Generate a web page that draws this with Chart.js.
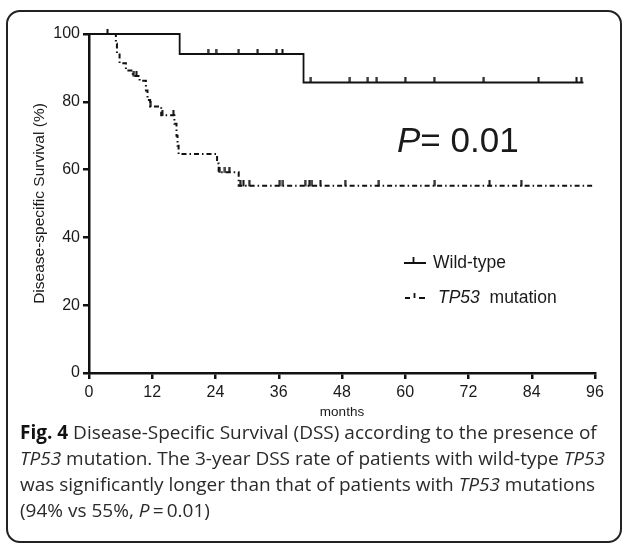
<!DOCTYPE html>
<html>
<head>
<meta charset="utf-8">
<script src="https://cdn.jsdelivr.net/npm/chart.js@4.4.0/dist/chart.umd.min.js"></script>
<style>
  html, body { margin: 0; padding: 0; background: #fff; }
  body { width: 624px; height: 544px; position: relative; overflow: hidden; }
  #frame { position: absolute; left: 6px; top: 10px; width: 612px; height: 529px;
           border: 2px solid #222; border-radius: 14px; }
  #chart { position: absolute; left: 0; top: 0; }
  .lbl { position: absolute; font-family: "Liberation Sans", Arial, sans-serif; color: #1a1a1a; white-space: nowrap; }
  #pval { left: 397px; top: 122px; font-size: 35px; line-height: 35px; }
  .leg { font-size: 17.5px; line-height: 20px; }
  .leg svg { position: absolute; }
  #caption { position: absolute; left: 20px; top: 419px; width: 600px;
             font-family: "Open Sans", sans-serif; font-size: 19px; line-height: 26px;
             color: #2a2a2a; white-space: nowrap; }
  #caption b { color: #111; }
</style>
</head>
<body>
<div id="frame"></div>
<canvas id="chart" width="624" height="430"></canvas>

<div class="lbl" id="pval"><i>P</i>= 0.01</div>
<div class="lbl leg" style="left:404px; top:252px;">
  <svg width="22" height="12" style="left:0; top:1px;"><path d="M0 10 H22 M9.5 10 V4" stroke="#111" stroke-width="1.8" fill="none"/></svg>
  <span style="position:absolute; left:29px; top:0;">Wild-type</span>
</div>
<div class="lbl leg" style="left:404px; top:287px;">
  <svg width="22" height="12" style="left:0; top:1px;"><path d="M1 10 H6 M10.5 10 V5 M15 10 H21" stroke="#111" stroke-width="1.8" fill="none"/></svg>
  <span style="position:absolute; left:34px; top:0;"><i>TP53</i>&nbsp; mutation</span>
</div>

<div id="caption">
  <b>Fig. 4</b> Disease-Specific Survival (DSS) according to the presence of<br>
  <i>TP53</i> mutation. The 3-year DSS rate of patients with wild-type <i>TP53</i><br>
  was significantly longer than that of patients with <i>TP53</i> mutations<br>
  (94% vs 55%, <i>P</i>&thinsp;=&thinsp;0.01)
</div>

<script>
// 축 눈금
const xTicks = [0, 12, 24, 36, 48, 60, 72, 84, 96];
const yTicks = [0, 20, 40, 60, 80, 100];

// Wild-type (KM 계단: 사건 시점 / 사건 이후 생존율)
const wildTime = [0, 17.2, 40.7, 93.8];
const wildSurv = [100, 94.1, 85.7, 85.7];
const wildCensor = [22.6, 24.1, 28.4, 32.0, 35.6, 36.7, 42.1, 49.5, 52.9, 54.6, 60.0, 65.5, 74.9, 85.3, 92.5, 93.4];

// TP53 mutation
const mutTime = [0, 5.1, 5.3, 5.8, 7.0, 8.3, 9.6, 10.8, 11.1, 11.6, 13.7, 16.2, 16.6, 16.8, 17.0, 24.3, 24.6, 28.4, 96.0];
const mutSurv = [100, 97.1, 94.3, 91.4, 89.2, 87.6, 86.2, 83.3, 80.5, 78.6, 76.0, 73.5, 70.0, 67.0, 64.6, 61.8, 59.2, 55.2, 55.2];
const mutCensor = [3.5, 8.5, 9.0, 11.7, 13.9, 16.0, 24.8, 25.8, 26.6, 28.7, 29.3, 30.4, 36.2, 36.8, 41.0, 41.8, 42.3, 43.9, 48.6, 55.0, 65.6, 76.0, 82.0];

// 계단 함수에서 중도절단 시점의 생존율 찾기
function survAt(times, surv, t) {
    let v = surv[0];
    for (let i = 0; i < times.length; i++) {
        if (times[i] <= t) v = surv[i];
    }
    return v;
}

// 중도절단 표시 (위로 짧은 세로선)
function makeTick() {
    const c = document.createElement('canvas');
    c.width = 3; c.height = 11;
    const g = c.getContext('2d');
    g.fillStyle = '#111';
    g.fillRect(0.5, 0, 2, 6);
    return c;
}
const tickImg = makeTick();

const FONT = "'Liberation Sans', Arial, sans-serif";
const ink = '#111';

const toPoints = (times, surv) => times.map((t, i) => ({ x: t, y: surv[i] }));
const toCensor = (cens, times, surv) => cens.map(t => ({ x: t, y: survAt(times, surv, t) }));

new Chart(document.getElementById('chart'), {
    type: 'line',
    data: {
        datasets: [
            {
                label: 'Wild-type',
                data: toPoints(wildTime, wildSurv),
                stepped: 'before',
                borderColor: ink,
                borderWidth: 1.8,
                pointRadius: 0,
                fill: false,
                clip: false
            },
            {
                label: 'TP53 mutation',
                data: toPoints(mutTime, mutSurv),
                stepped: 'before',
                borderColor: ink,
                borderWidth: 2,
                borderDash: [5, 3, 1.5, 3],
                pointRadius: 0,
                fill: false,
                clip: false
            },
            {
                label: 'wild censor',
                data: toCensor(wildCensor, wildTime, wildSurv),
                showLine: false,
                pointStyle: tickImg,
                clip: false
            },
            {
                label: 'mut censor',
                data: toCensor(mutCensor, mutTime, mutSurv),
                showLine: false,
                pointStyle: tickImg,
                clip: false
            }
        ]
    },
    options: {
        responsive: false,
        animation: false,
        events: [],
        layout: { padding: { left: 0, right: 29, top: 34, bottom: 0 } },
        plugins: {
            legend: { display: false },
            tooltip: { enabled: false }
        },
        scales: {
            x: {
                type: 'linear',
                min: 0,
                max: 96,
                afterBuildTicks: s => { s.ticks = xTicks.map(v => ({ value: v })); },
                afterFit: s => { s.height = 57; },
                grid: { display: true, drawOnChartArea: false, drawTicks: true, tickLength: 6, lineWidth: 2.5, color: ink },
                border: { display: true, width: 2.5, color: ink },
                ticks: { font: { family: FONT, size: 16 }, color: '#1a1a1a', padding: 4, maxRotation: 0 },
                title: { display: true, text: 'months', font: { family: FONT, size: 13.5 }, color: '#1a1a1a', padding: { top: 0, bottom: 10 } }
            },
            y: {
                min: 0,
                max: 100,
                afterBuildTicks: s => { s.ticks = yTicks.map(v => ({ value: v })); },
                afterFit: s => { s.width = 89; },
                grid: { display: true, drawOnChartArea: false, drawTicks: true, tickLength: 6, lineWidth: 2.5, color: ink },
                border: { display: true, width: 2.5, color: ink },
                ticks: { font: { family: FONT, size: 16 }, color: '#1a1a1a', padding: 3 },
                title: { display: true, text: 'Disease-specific Survival (%)', font: { family: FONT, size: 15.5 }, color: '#1a1a1a', padding: { top: 30, bottom: 0 } }
            }
        }
    }
});
</script>
</body>
</html>
